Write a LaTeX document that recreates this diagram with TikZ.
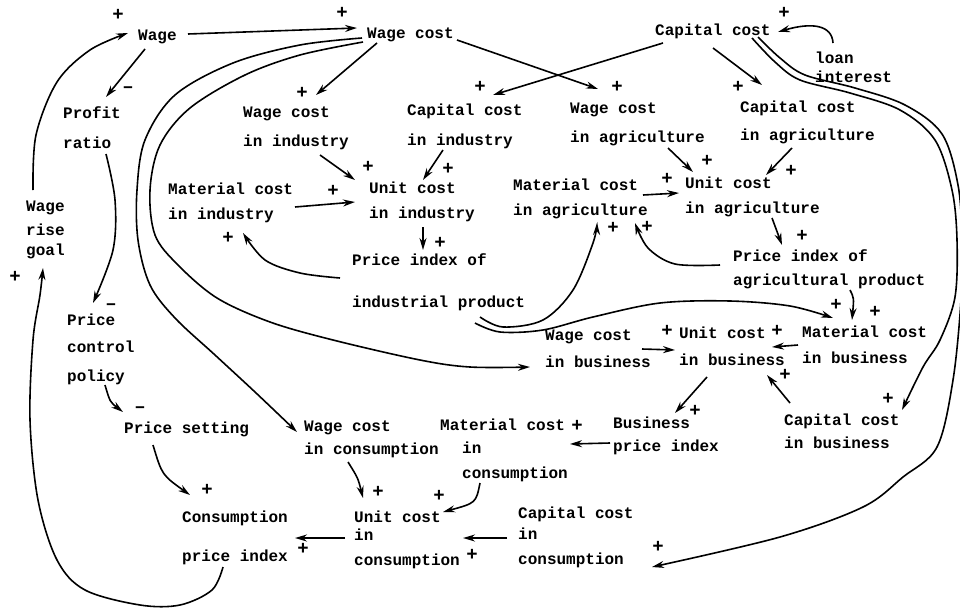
\documentclass[tikz,border=0pt]{standalone}
\usepackage{fontspec}
\newfontfamily\tw{Liberation Mono}
\usetikzlibrary{arrows.meta,calc}
\newcommand\lbstrut{\rule{0pt}{12pt}}
\begin{document}
\begin{tikzpicture}[x=1pt,y=-1pt,
  lbl/.style={anchor=north west,inner sep=0pt,align=left,font=\tw\bfseries\fontsize{16}{24}\selectfont},
  sgn/.style={inner sep=0pt,font=\tw\bfseries\fontsize{19}{24}\selectfont},
  arr/.style={line width=1.6pt,-{Stealth[length=12pt,width=7pt]}},
  cv/.style={smooth,tension=0.55}]
\fill[white] (0,0) rectangle (960,608);
\useasboundingbox (0,0) rectangle (960,608);
% nodes
\node[lbl] (wage) at (138,28) {\lbstrut Wage};
\node[lbl] (wagecost) at (367,26) {\lbstrut Wage cost};
\node[lbl] (capcost) at (655,23) {\lbstrut Capital cost};
\node[lbl] (loan) at (815,51) {\lbstrut loan\\[-5pt]interest};
\node[lbl] (profit) at (63,106) {\lbstrut Profit\\[6pt]ratio};
\node[lbl] (goal) at (26,199) {\lbstrut Wage\\rise\\[-4pt]goal};
\node[lbl] (wci) at (243,105) {\lbstrut Wage cost\\[5pt]in industry};
\node[lbl] (cci) at (407,103) {\lbstrut Capital cost\\[6pt]in industry};
\node[lbl] (wca) at (570,101) {\lbstrut Wage cost\\[5pt]in agriculture};
\node[lbl] (cca) at (740,100) {\lbstrut Capital cost\\[4pt]in agriculture};
\node[lbl] (mci) at (168,182) {\lbstrut Material cost\\[1pt]in industry};
\node[lbl] (uci) at (369,181) {\lbstrut Unit cost\\[1pt]in industry};
\node[lbl] (pii) at (352,253) {\lbstrut Price index of\\[18pt]industrial product};
\node[lbl] (mca) at (513,178) {\lbstrut Material cost\\[1pt]in agriculture};
\node[lbl] (uca) at (685,176) {\lbstrut Unit cost\\[1pt]in agriculture};
\node[lbl] (pia) at (733,249) {\lbstrut Price index of\\agricultural product};
\node[lbl] (wcb) at (545,328) {\lbstrut Wage cost\\[3pt]in business};
\node[lbl] (ucb) at (679,326) {\lbstrut Unit cost\\[3pt]in business};
\node[lbl] (mcb) at (802,325) {\lbstrut Material cost\\[2pt]in business};
\node[lbl] (ccb) at (784,413) {\lbstrut Capital cost\\[-1pt]in business};
\node[lbl] (bpi) at (613,416) {\lbstrut Business\\[-1pt]price index};
\node[lbl] (mcc) at (440,418) {\lbstrut Material cost\\[-1pt]\hspace*{22pt}in\\[1pt]\hspace*{22pt}consumption};
\node[lbl] (wcc) at (304,419) {\lbstrut Wage cost\\[-1pt]in consumption};
\node[lbl] (pcp) at (67,313) {\lbstrut Price\\[3pt]control\\[5pt]policy};
\node[lbl] (ps) at (124,421) {\lbstrut Price setting};
\node[lbl] (cpi) at (182,510) {\lbstrut Consumption\\[15pt]price index};
\node[lbl] (ucc) at (354,510) {\lbstrut Unit cost\\[-6pt]in\\[1pt]consumption};
\node[lbl] (ccc) at (518,506) {\lbstrut Capital cost\\[-3pt]in\\[1pt]consumption};
% signs
\node[sgn] (s1) at (118,15) {+};
\node[sgn] (s2) at (342,13) {+};
\node[sgn] (s3) at (128,90) {\textendash};
\node[sgn] (s4) at (302,93) {+};
\node[sgn] (s5) at (480,87) {+};
\node[sgn] (s6) at (617,87) {+};
\node[sgn] (s7) at (738,87) {+};
\node[sgn] (s8) at (784,13) {+};
\node[sgn] (s9) at (368,167) {+};
\node[sgn] (s10) at (448,169) {+};
\node[sgn] (s11) at (333,191) {+};
\node[sgn] (s12) at (228,238) {+};
\node[sgn] (s13) at (440,243) {+};
\node[sgn] (s14) at (667,179) {+};
\node[sgn] (s15) at (707,161) {+};
\node[sgn] (s16) at (791,171) {+};
\node[sgn] (s17) at (613,228) {+};
\node[sgn] (s18) at (647,227) {+};
\node[sgn] (s19) at (802,236) {+};
\node[sgn] (s20) at (836,305) {+};
\node[sgn] (s21) at (875,312) {+};
\node[sgn] (s22) at (667,331) {+};
\node[sgn] (s23) at (777,331) {+};
\node[sgn] (s24) at (785,375) {+};
\node[sgn] (s25) at (695,411) {+};
\node[sgn] (s26) at (888,399) {+};
\node[sgn] (s27) at (577,426) {+};
\node[sgn] (s28) at (378,492) {+};
\node[sgn] (s29) at (439,496) {+};
\node[sgn] (s30) at (303,549) {+};
\node[sgn] (s31) at (472,555) {+};
\node[sgn] (s32) at (658,547) {+};
\node[sgn] (s33) at (207,490) {+};
\node[sgn] (s34) at (111,307) {\textendash};
\node[sgn] (s35) at (140,410) {\textendash};
\node[sgn] (s36) at (15,277) {+};
% connectors
\draw[arr] ($(wage.north west)+(50,6)$) -- ($(wagecost.north west)+(-10,2)$);
\draw[arr] ($(wage.north west)+(7,21)$) -- ($(profit.north west)+(43,-9)$);
\draw[arr] ($(wagecost.north west)+(10,17)$) -- ($(wci.north west)+(73,-10)$);
\draw[arr] ($(wagecost.north west)+(90,14)$) -- ($(wca.north west)+(28,-12)$);
\draw[arr] ($(capcost.north west)+(8,20)$) -- ($(cci.north west)+(86,-8)$);
\draw[arr] ($(capcost.north west)+(58,25)$) -- ($(cca.north west)+(22,-15)$);
\draw[arr] ($(loan.north west)+(18,-8)$) .. controls (832,25) and (812,22) .. ($(capcost.north west)+(123,9)$);
\draw[arr] plot[cv] coordinates {($(capcost.north west)+(97,15)$) (775,62) (800,80) (850,93) (900,110) (935,140) (952,190) (957,240) (955,297) (940,340) (923,367) ($(ccb.north west)+(118,-3)$)};
\draw[arr] plot[cv] coordinates {($(capcost.north west)+(103,14)$) (780,58) (805,75) (855,88) (905,105) (942,134) (958,185) (962,240) (961,300) (953,380) (937,447) (903,477) (863,507) (780,537) ($(ccc.north west)+(134,61)$)};
\draw[arr] plot[cv] coordinates {($(wagecost.north west)+(-5,12)$) (300,45) (233,63) (175,95) (145,140) (137,190) (138,240) (150,285) (175,318) (215,355) (255,392) ($(wcc.north west)+(-7,13)$)};
\draw[arr] plot[cv] coordinates {($(wagecost.north west)+(-4,16)$) (300,55) (245,75) (190,108) (160,145) (150,190) (155,235) (178,265) (217,298) (270,322) (333,340) (420,360) (470,367) ($(wcb.north west)+(-15,39)$)};
\draw[arr] ($(wci.north west)+(77,50)$) -- ($(uci.north west)+(-14,-1)$);
\draw[arr] ($(cci.north west)+(36,47)$) -- ($(uci.north west)+(54,-1)$);
\draw[arr] ($(mci.north west)+(127,25)$) -- ($(uci.north west)+(-14,21)$);
\draw[arr] ($(uci.north west)+(54,46)$) -- ($(pii.north west)+(71,-3)$);
\draw[arr] plot[cv] coordinates {($(pii.north west)+(-12,25)$) (300,273) (265,260) ($(mci.north west)+(75,51)$)};
\draw[arr] ($(wca.north west)+(98,47)$) -- ($(uca.north west)+(8,-4)$);
\draw[arr] ($(cca.north west)+(52,48)$) -- ($(uca.north west)+(81,-1)$);
\draw[arr] ($(mca.north west)+(130,17)$) -- ($(uca.north west)+(-6,17)$);
\draw[arr] ($(uca.north west)+(87,42)$) -- ($(pia.north west)+(49,-4)$);
\draw[arr] plot[cv] coordinates {($(pia.north west)+(-13,16)$) (675,264) (648,248) ($(mca.north west)+(122,45)$)};
\draw[arr] plot[cv] coordinates {($(pii.north west)+(128,64)$) (503,327) (543,320) (573,290) (593,243) ($(mca.north west)+(84,45)$)};
\draw[arr] plot[cv] coordinates {($(pii.north west)+(123,70)$) (500,332) (543,330) (593,317) (660,303) (730,301) (790,306) ($(mcb.north west)+(31,-7)$)};
\draw[arr] ($(pia.north west)+(117,41)$) .. controls (854,298) .. ($(mcb.north west)+(50,-5)$);
\draw[arr] ($(wcb.north west)+(97,21)$) -- ($(ucb.north west)+(-4,24)$);
\draw[arr] ($(mcb.north west)+(-4,20)$) -- ($(ucb.north west)+(93,21)$);
\draw[arr] ($(ccb.north west)+(6,-10)$) -- ($(ucb.north west)+(88,49)$);
\draw[arr] ($(ucb.north west)+(28,51)$) -- ($(bpi.north west)+(62,-3)$);
\draw[arr] ($(bpi.north west)+(-3,27)$) -- ($(mcc.north west)+(130,26)$);
\draw[arr] ($(mcc.north west)+(40,65)$) .. controls (476,503) .. ($(ucc.north west)+(89,2)$);
\draw[arr] ($(wcc.north west)+(44,43)$) .. controls (358,478) .. ($(ucc.north west)+(9,-12)$);
\draw[arr] ($(ccc.north west)+(-11,32)$) -- ($(ucc.north west)+(109,28)$);
\draw[arr] ($(ucc.north west)+(-9,28)$) -- ($(cpi.north west)+(113,28)$);
\draw[arr] plot[cv] coordinates {($(cpi.north west)+(41,57)$) (212,590) (180,605) (140,605) (85,590) (57,560) (38,500) (30,420) (33,340) (40,295) ($(goal.north west)+(17,69)$)};
\draw[arr] plot[cv] coordinates {($(goal.north west)+(7,-9)$) (36,135) (57,82) (90,50) ($(wage.north west)+(-10,5)$)};
\draw[arr] plot[cv] coordinates {($(profit.north west)+(43,48)$) (115,200) (113,250) ($(pcp.north west)+(26,-10)$)};
\draw[arr] ($(pcp.north west)+(38,72)$) .. controls (110,402) .. ($(ps.north west)+(-1,-9)$);
\draw[arr] ($(ps.north west)+(29,24)$) .. controls (162,475) .. ($(cpi.north west)+(8,-15)$);
\end{tikzpicture}
\end{document}
